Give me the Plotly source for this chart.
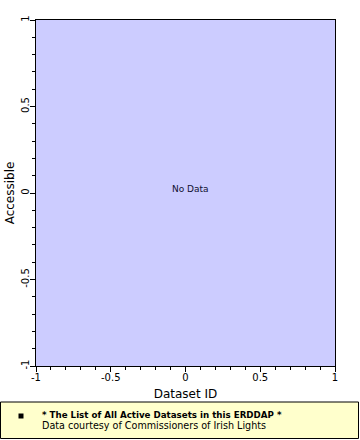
import plotly.graph_objects as go

# ---- data ----
dataset_ids = []          # no data available
accessible = []
x_tickvals = [-1, -0.5, 0, 0.5, 1]
x_ticktext = ["-1", "-0.5", "0", "0.5", "1"]
y_tickvals = [-1, -0.5, 0, 0.5, 1]
y_ticktext = ["-1", "-0.5", "0", "0.5", "1"]
x_title = "Dataset ID"
y_title = "Accessible"
no_data_text = "No Data"
legend_title = "* The List of All Active Datasets in this ERDDAP *"
legend_sub = "Data courtesy of Commissioners of Irish Lights"

W, H = 360, 440
L, R, T, B = 36, 25, 20, 74
pw, ph = W - L - R, H - T - B

def px(X):
    return (X - L) / pw

def py(Y):
    return (H - B - Y) / ph

FONT = "DejaVu Sans"

fig = go.Figure()
fig.add_trace(go.Scatter(x=dataset_ids, y=accessible, mode="markers",
                         marker=dict(color="black"), showlegend=False))

axis_common = dict(
    range=[-1, 1], showline=True, linecolor="black", linewidth=1, mirror=True,
    ticks="outside", ticklen=5, tickwidth=1, tickcolor="black",
    showgrid=False, zeroline=False, automargin=False,
    tickfont=dict(family=FONT, size=10, color="black"),
    minor=dict(dtick=0.1, ticks="outside", ticklen=3, tickwidth=1,
               tickcolor="black", showgrid=False),
)

fig.update_xaxes(**axis_common, tickmode="array", tickvals=x_tickvals,
                 ticktext=x_ticktext, ticklabelstandoff=-3,
                 title=dict(text=x_title, font=dict(family=FONT, size=12, color="black"),
                            standoff=7))
fig.update_yaxes(**axis_common, tickmode="array", tickvals=y_tickvals,
                 ticktext=y_ticktext, tickangle=-90, ticklabelstandoff=-3,
                 title=dict(text=y_title, font=dict(family=FONT, size=12, color="black"),
                            standoff=2))

# legend box
fig.add_shape(type="rect", xref="paper", yref="paper",
              x0=px(0.5), x1=px(358.5), y0=py(402), y1=py(438.5),
              fillcolor="#FFFFCC", line=dict(color="black", width=1), layer="above")
fig.add_shape(type="rect", xref="paper", yref="paper",
              x0=px(18.5), x1=px(23.5), y0=py(413.5), y1=py(418.5),
              fillcolor="black", line=dict(color="black", width=0), layer="above")

fig.add_annotation(xref="paper", yref="paper", x=px(40), y=py(414.5),
                   text="<b>" + legend_title + "</b>", showarrow=False,
                   xanchor="left", yanchor="middle",
                   font=dict(family=FONT, size=8.7, color="black"))
fig.add_annotation(xref="paper", yref="paper", x=px(40), y=py(425.5),
                   text=legend_sub, showarrow=False,
                   xanchor="left", yanchor="middle",
                   font=dict(family=FONT, size=9.6, color="black"))

fig.add_annotation(xref="paper", yref="paper", x=px(190), y=py(188.5),
                   text=no_data_text, showarrow=False,
                   xanchor="center", yanchor="middle",
                   font=dict(family=FONT, size=9, color="#101030"))

fig.update_layout(
    width=W, height=H, margin=dict(l=L, r=R, t=T, b=B),
    plot_bgcolor="#CCCCFF", paper_bgcolor="white", showlegend=False,
)

fig.write_html("out.html", config={"displayModeBar": False})
